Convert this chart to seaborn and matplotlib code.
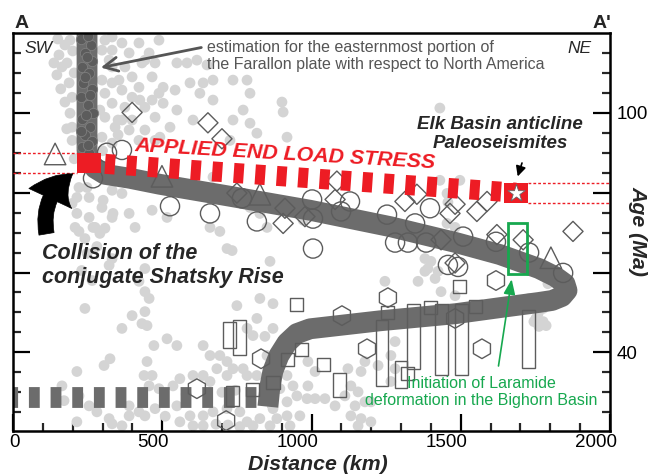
import numpy as np
import matplotlib.pyplot as plt
import matplotlib.transforms as mtransforms
from matplotlib.ticker import FixedLocator, MultipleLocator
import seaborn as sns

sns.set_style("white")
plt.rcParams['font.family'] = ['Liberation Sans', 'DejaVu Sans']

# ---------------- data: distance along A-A' (km), age (Ma) ----------------
# light grey background cloud
dots = np.array([
    (137, 112.5), (154, 114.5), (174, 117.0), (181, 112.5), (147, 109.5), (188, 107.5),
    (198, 103.9), (191, 99.9), (198, 96.4), (198, 93.1), (174, 102.7), (164, 111.5), (191, 118.2),
    (205, 110.0), (160, 106.0), (150, 118.5), (200, 115.5), (180, 96.0), (205, 88.5),
    (308, 118.2), (332, 115.7), (365, 117.5), (389, 115.0), (422, 117.5), (456, 115.0),
    (332, 111.5), (375, 111.5), (399, 109.0), (332, 107.5), (308, 104.9), (365, 105.7),
    (422, 106.4), (466, 109.0), (489, 104.9), (332, 102.4), (375, 101.4), (308, 98.9),
    (342, 96.4), (389, 95.7), (442, 95.7), (476, 98.9), (298, 93.9), (332, 92.4), (422, 93.1),
    (476, 93.1), (298, 115.7), (298, 108.2), (291, 100.7), (352, 98.2), (425, 103.2), (442, 113.2),
    (322, 113.2), (355, 108.2), (399, 103.9), (442, 101.4), (476, 112.5), (432, 112.5),
    (365, 98.2), (399, 98.2), (466, 103.2), (332, 119.0), (489, 118.2), (352, 94.5), (300, 90.5),
    (221, 81.3), (255, 78.8), (198, 77.3), (255, 73.8), (298, 76.3), (332, 80.6), (365, 79.8),
    (332, 73.8), (389, 74.8), (466, 75.6), (409, 71.3), (275, 71.3), (208, 71.3),
    (214, 78.8), (248, 81.3), (214, 74.8), (268, 71.3), (302, 78.1), (335, 74.8), (291, 69.8),
    (281, 66.5), (248, 64.8), (230, 60.5), (265, 58.0),
    (503, 106.4), (549, 112.5), (583, 112.5), (616, 113.2), (650, 112.0), (593, 107.5),
    (637, 107.5), (670, 108.2), (543, 105.7), (626, 104.9), (670, 103.2), (737, 108.2),
    (784, 108.2), (794, 104.9), (771, 100.7), (737, 98.2), (794, 97.4), (817, 94.9),
    (901, 102.7), (905, 100.2), (918, 93.9), (503, 102.4), (549, 100.7), (603, 98.2),
    (526, 96.4), (492, 93.9), (670, 83.9), (603, 79.8), (516, 73.8), (660, 71.3), (794, 76.3),
    (851, 71.3), (972, 73.1), (727, 93.1), (827, 74.8),
    (1430, 101.2), (1430, 83.1), (1497, 83.1), (1454, 79.8), (1457, 77.6), (1454, 72.3), (1481, 71.3),
    (221, 70.3), (241, 68.5), (308, 71.1), (322, 61.8), (332, 63.5), (442, 61.0), (422, 57.8),
    (442, 55.2), (456, 53.5), (241, 51.0), (399, 49.2), (442, 50.2), (365, 46.0), (432, 47.2),
    (449, 46.7), (472, 41.7), (325, 38.4), (305, 36.7), (449, 37.7), (214, 35.2), (439, 34.2),
    (466, 34.2), (456, 31.6), (164, 31.6), (171, 27.9), (221, 29.1), (255, 26.6), (281, 25.1),
    (322, 23.4), (332, 22.1), (365, 21.6), (214, 22.6), (389, 24.1), (422, 25.1), (442, 24.1),
    (476, 25.9), (389, 26.6), (489, 30.9),
    (693, 70.3), (717, 66.0), (734, 65.5), (861, 62.8), (827, 53.5), (750, 51.7), (871, 52.2),
    (817, 48.5), (784, 46.0), (804, 44.2), (844, 44.0), (871, 46.0), (516, 43.4), (549, 41.7),
    (637, 41.7), (660, 39.2), (693, 39.2), (717, 37.7), (737, 35.9), (771, 35.9), (683, 35.9),
    (637, 34.2), (660, 32.7), (603, 34.2), (559, 33.4), (536, 31.6), (717, 34.2), (784, 34.2),
    (817, 34.2), (851, 39.2), (884, 35.9), (918, 34.2), (894, 30.9), (938, 31.6), (951, 29.1),
    (985, 28.4), (918, 27.6), (549, 26.6), (593, 24.1), (637, 24.1), (670, 25.1), (717, 25.9),
    (760, 25.1), (784, 22.6), (827, 23.4), (871, 25.9), (884, 23.4), (918, 24.1), (961, 24.1),
    (637, 21.6), (603, 21.6), (559, 22.6), (760, 21.4), (804, 21.6), (861, 21.6), (928, 21.6),
    (700, 30.0), (745, 30.5), (580, 29.5), (510, 24.0), (680, 22.0), (720, 21.8),
    (1380, 63.5), (1400, 62.8), (1390, 61.0), (1380, 60.3), (1424, 60.3), (1357, 57.8),
    (1414, 58.5), (1246, 57.8), (1434, 55.2), (1481, 54.2), (1280, 42.7), (1266, 39.2),
    (1223, 36.7), (1179, 37.7), (1166, 35.2), (1122, 35.9), (1132, 31.6), (1156, 30.1),
    (1112, 29.1), (1079, 26.6), (1045, 28.4), (1012, 28.4), (988, 31.6), (1012, 35.2),
    (988, 37.7), (1199, 27.6), (1179, 27.6), (1146, 26.6), (1132, 24.1), (1166, 23.4),
    (1199, 22.6), (1156, 21.6), (1266, 32.7), (1280, 35.9),
    (1779, 59.0), (1792, 57.2), (1729, 53.5), (1802, 54.0), (1776, 51.0), (1759, 49.7),
    (1752, 48.5), (1776, 47.7), (1786, 46.7), (1762, 46.5), (1745, 47.7),
])
dot_km, dot_ma = dots[:, 0], dots[:, 1]

# dots seen through the vertical part of the band
band_dots = np.array([
    (228, 118.5), (262, 117.0), (240, 115.0), (265, 113.0), (230, 111.5), (255, 110.0),
    (236, 107.5), (266, 106.0), (228, 104.0), (250, 102.0), (268, 100.0), (232, 98.5),
    (258, 96.5), (240, 94.5), (266, 93.0), (230, 91.5), (255, 90.0), (250, 119.2),
    (248, 114.0), (242, 109.0), (258, 104.5), (245, 99.5), (228, 95.5), (250, 92.0),
])

# easternmost Farallon plate edge (solid band)
edge_km = [248, 248, 255, 275, 308, 392, 492, 727, 995, 1263, 1484, 1631, 1762, 1816, 1849,
           1856, 1839, 1806, 1762, 1631, 1484, 1229, 995, 951, 918, 891, 871, 861, 854]
edge_ma = [120.0, 90.6, 88.1, 86.1, 84.6, 83.6, 82.1, 79.1, 75.6, 71.5, 67.5, 64.5, 61.0, 59.0, 57.2,
           55.5, 54.0, 53.0, 52.5, 51.2, 49.7, 47.9, 45.9, 44.7, 42.4, 39.2, 35.4, 31.6, 26.4]
# dashed segment at the bottom left
flat_km = [0, 850]
flat_ma = [28.9, 28.9]

circle_km = [315, 365, 268, 526, 660, 817, 767, 1002, 1005, 1129, 1099, 1253, 1397, 1347,
             1005, 1280, 1323, 1384, 1457, 1491, 1508, 1618, 1729, 1843]
circle_ma = [90.0, 90.7, 83.6, 76.6, 74.8, 72.8, 78.6, 78.3, 73.5, 77.8, 75.3, 74.5, 76.1, 72.3,
             66.0, 67.5, 67.5, 67.5, 61.9, 61.4, 69.0, 67.7, 65.0, 59.9]
diamond_km = [399, 653, 700, 750, 911, 905, 978, 1085, 1079, 1313, 1353, 1464, 1481, 1554,
              1588, 1434, 1481, 1621, 1709, 1876]
diamond_ma = [100.1, 97.5, 93.5, 79.9, 76.1, 72.3, 74.0, 82.9, 78.3, 77.8, 79.6, 74.8, 77.1, 75.3,
              77.8, 68.2, 62.4, 69.5, 68.2, 70.3]
triangle_km = [141, 499, 827, 1802]
triangle_ma = [89.7, 84.1, 79.6, 63.7]
hexagon_km = [616, 714, 831, 1256, 1102, 1186, 1481, 1571, 1618]
hexagon_ma = [30.9, 22.9, 38.4, 53.7, 49.2, 40.9, 48.5, 40.9, 58.0]
square_km = [951, 968, 918, 871, 801, 1039, 1323, 1256, 1400, 1497, 1548]
square_ma = [52.1, 40.7, 38.2, 32.4, 30.6, 36.9, 34.7, 50.1, 51.2, 56.6, 51.4]

# age-range boxes
bar_km = [725, 760, 735, 1095, 1236, 1300, 1342, 1435, 1502, 1727]
bar_young = [41.2, 39.4, 26.6, 28.9, 31.6, 31.1, 35.9, 34.4, 34.4, 36.1]
bar_old = [47.5, 48.2, 31.6, 34.9, 48.2, 37.9, 52.2, 52.0, 52.0, 50.5]

# applied end load (Shatsky Rise collision -> Elk Basin)
load_km = [255, 1685]
load_ma = [87.5, 80.0]
load_young = [85.0, 77.5]
load_old = [90.0, 82.5]

# Laramide initiation, Bighorn Basin
lara_km = [1690]
lara_young = [59.7]
lara_old = [72.3]

RED = '#ed1c24'
GREEN = '#17a84f'
BAND = '#6c6c6c'
EDGE = '#5c5c5c'

fig = plt.figure(figsize=(6.5, 4.76), dpi=100)
ax = fig.add_axes([13 / 650, 1 - 431 / 476, 597 / 650, 398 / 476])

sns.scatterplot(x=dot_km, y=dot_ma, s=60, color='#d4d4d4', edgecolor='none', ax=ax, zorder=1)

ax.plot(flat_km, flat_ma, color=BAND, lw=15, ls=(0.3, (0.52, 0.52)), zorder=2)
sns.lineplot(x=edge_km, y=edge_ma, sort=False, estimator=None, color=BAND, lw=15,
             solid_capstyle='butt', solid_joinstyle='round', ax=ax, zorder=2)
sns.scatterplot(x=band_dots[:, 0], y=band_dots[:, 1], s=55, color='#5c5c5c',
                edgecolor='#7e7e7e', linewidth=0.6, ax=ax, zorder=2.5)

hollow = dict(facecolor='none', edgecolor=EDGE, linewidth=1.0, ax=ax, zorder=3)
sns.scatterplot(x=circle_km, y=circle_ma, marker='o', s=190, **hollow)
sns.scatterplot(x=diamond_km, y=diamond_ma, marker='D', s=105, **hollow)
sns.scatterplot(x=triangle_km, y=triangle_ma, marker='^', s=240, **hollow)
sns.scatterplot(x=hexagon_km, y=hexagon_ma, marker='h', s=200, **hollow)
sns.scatterplot(x=square_km, y=square_ma, marker='s', s=88, **hollow)
ax.bar(bar_km, np.subtract(bar_old, bar_young), bottom=bar_young, width=43,
       fill=False, edgecolor=EDGE, linewidth=1.0, zorder=3)

# applied end load stress
ax.plot(load_km, load_ma, color=RED, lw=14.4, ls=(0.275, (0.5, 0.575)), zorder=4)
ax.bar(load_km, np.subtract(load_old, load_young), bottom=load_young, width=82,
       color=RED, linewidth=0, zorder=5)
ax.hlines(load_old[:1] + load_young[:1], 0, load_km[0] - 41, color=RED, lw=1,
          linestyles=(0, (2, 1.5)), zorder=5)
ax.hlines(load_old[1:] + load_young[1:], load_km[1] + 41, 2000, color=RED, lw=1,
          linestyles=(0, (2, 1.5)), zorder=5)
sns.scatterplot(x=load_km[1:], y=load_ma[1:], marker='*', s=170, color='white',
                edgecolor='#666666', linewidth=0.6, ax=ax, zorder=6)

# Laramide box
ax.bar(lara_km, np.subtract(lara_old, lara_young), bottom=lara_young, width=64,
       fill=False, edgecolor=GREEN, linewidth=2, zorder=5)

ax.set_xlim(0, 2000)
ax.set_ylim(20.3, 120)

# ticks
ax.xaxis.set_major_locator(FixedLocator([0, 500, 1000, 1500, 2000]))
ax.xaxis.set_minor_locator(MultipleLocator(100))
ax.yaxis.set_major_locator(FixedLocator([100, 80, 60, 40]))
ax.yaxis.set_minor_locator(FixedLocator(list(range(25, 120, 5))))
ax.set_yticklabels(['100', '', '', '40'])
ax.tick_params(which='major', direction='in', length=12, width=1.6, labelsize=13.5, colors='black')
ax.tick_params(which='minor', direction='in', length=6, width=1.6)
ax.tick_params(axis='y', which='both', left=True, right=True, labelleft=False, labelright=True, pad=5)
ax.tick_params(axis='x', which='both', bottom=True, top=False, pad=2)
offset = mtransforms.ScaledTranslation(5 / 72, 0, fig.dpi_scale_trans)
for lab in ax.get_xticklabels():
    lab.set_horizontalalignment('right')
    lab.set_transform(lab.get_transform() + offset)
for sp in ax.spines.values():
    sp.set_linewidth(1.8)
    sp.set_color('black')
ax.set_xlabel('')
ax.set_ylabel('')

# labels
bi = dict(fontweight='bold', fontstyle='italic')
fig.text(318 / 650, 1 - 465 / 476, 'Distance (km)', ha='center', va='center', fontsize=15.3, **bi)
fig.text(638 / 650, 1 - 231 / 476, 'Age (Ma)', ha='center', va='center', rotation=270, fontsize=15.3, **bi)
fig.text(15 / 650, 1 - 24 / 476, 'A', ha='left', va='center', fontsize=14, fontweight='bold')
fig.text(611 / 650, 1 - 24 / 476, "A'", ha='right', va='center', fontsize=14, fontweight='bold')
ax.text(40, 116.2, 'SW', ha='left', va='center', fontsize=12.5, fontstyle='italic', zorder=7)
ax.text(1940, 116.2, 'NE', ha='right', va='center', fontsize=12.5, fontstyle='italic', zorder=7)

ax.text(650, 114.2, 'estimation for the easternmost portion of\nthe Farallon plate with respect to North America',
        ha='left', va='center', fontsize=11.5, color='#555555', linespacing=1.12, zorder=7)
ax.annotate('', xy=(285, 111.2), xytext=(640, 116.5),
            arrowprops=dict(arrowstyle='->,head_length=1.0,head_width=0.5', color='#555555', lw=2),
            zorder=7)

ax.text(911, 89.6, 'APPLIED END LOAD STRESS', ha='center', va='center', rotation=-3.3,
        rotation_mode='anchor', fontsize=15.4, color=RED, zorder=7, **bi)

ax.text(1631, 94.7, 'Elk Basin anticline\nPaleoseismites', ha='center', va='center',
        fontsize=13.5, linespacing=1.22, zorder=7, **bi)
ax.annotate('', xy=(1688, 83.4), xytext=(1708, 88.1),
            arrowprops=dict(arrowstyle='-|>,head_length=0.6,head_width=0.3', color='black', lw=1.2),
            zorder=7)

ax.text(97, 61.7, 'Collision of the\nconjugate Shatsky Rise', ha='left', va='center',
        fontsize=15.5, linespacing=1.2, zorder=7, **bi)
ax.annotate('', xy=(208, 85.1), xytext=(114, 69.0),
            arrowprops=dict(arrowstyle='simple,head_length=2.4,head_width=3.4,tail_width=1.1',
                            connectionstyle='arc3,rad=-0.35', fc='black', ec='black', lw=0.5),
            zorder=7)

ax.text(1568, 30.1, 'Initiation of Laramide\ndeformation in the Bighorn Basin', ha='center', va='center',
        fontsize=11.5, color=GREEN, linespacing=1.15, zorder=7)
ax.annotate('', xy=(1672, 59.0), xytext=(1625, 35.9),
            arrowprops=dict(arrowstyle='-|>,head_length=0.9,head_width=0.35', color=GREEN, lw=1.2),
            zorder=7)

fig.savefig('out.png', dpi=100)
